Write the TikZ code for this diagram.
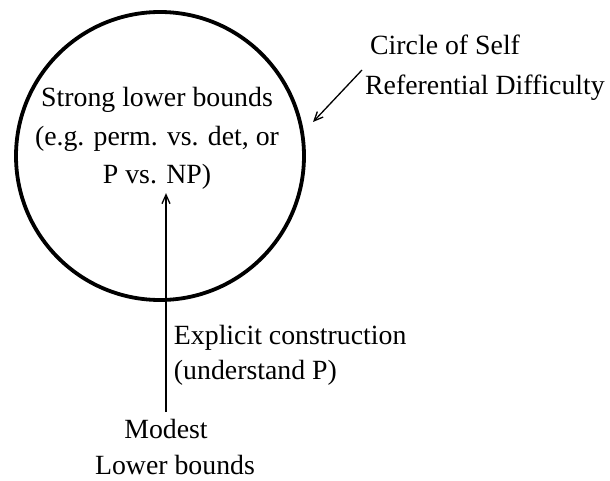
\documentclass[tikz,border=0pt]{standalone}
\usepackage{fontspec}
\setmainfont{Liberation Serif}
\usetikzlibrary{arrows.meta}

\begin{document}
\begin{tikzpicture}[x=1pt, y=1pt,
    every node/.style={font=\fontsize{27.8}{38.5}\selectfont},
    pointer/.style={line width=1.3pt, -{Straight Barb[length=9pt, width=8pt]}}]

  % Fix the page size
  \useasboundingbox (0,0) rectangle (610,480);

  % Define the circle
  \def\rr{144}  % radius of the circle

  % The circle of self referential difficulty
  \node[circle, draw, line width=3.8pt, minimum size=2*\rr] (ring) at (160,324) {};

  % Text inside and below the circle
  \node[align=center] (strong) at (157,341.5)
    {Strong lower bounds\\(e.g. perm. vs. det, or\\P vs. NP)};
  \node[align=center, inner sep=7pt, font=\fontsize{27.8}{36}\selectfont] (modest) at (166,33)
    {Modest\\\hspace*{18pt}Lower bounds};

  % Explicit construction arrow
  \draw[pointer] (modest.north) -- (modest.north |- strong.south)
    node[pos=0.26, right, xshift=4pt, align=left,
         font=\fontsize{27.8}{35}\selectfont] (explicit)
    {Explicit construction\\(understand P)};

  % Label of the circle with its arrow
  \node[anchor=west, align=left, inner sep=0pt,
        font=\fontsize{27.8}{40}\selectfont] (label) at (365,412)
    {\hspace*{5pt}Circle of Self\\Referential Difficulty};
  \coordinate (tail) at (362,410);
  \coordinate (tip) at (313,358);
  \draw[pointer] (tail) -- (tip);

\end{tikzpicture}
\end{document}
